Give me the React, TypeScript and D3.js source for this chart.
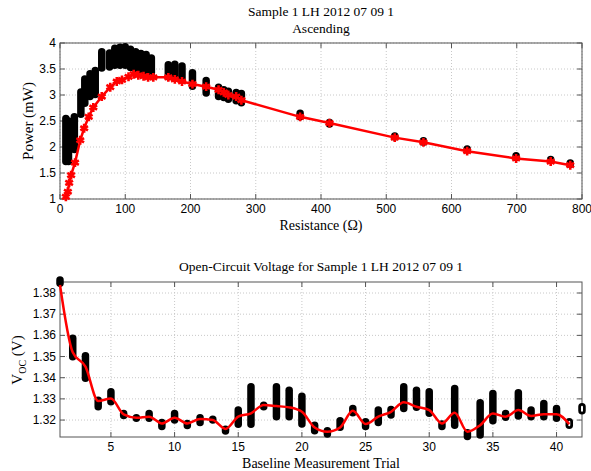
import React, { useEffect, useRef } from 'react';
import * as d3 from 'd3';

const W = 591;
const H = 471;

// --- top panel: power vs resistance ---
// red sweep (ascending)
const sweepR = [9, 12, 14, 17, 23, 31, 37, 44, 51, 64, 77, 87, 95, 105, 113, 120, 128, 135, 143, 166, 176, 187, 203, 224, 243, 251, 258, 270, 278, 368, 413, 513, 557, 624, 699, 752, 782];
const sweepP = [1.04, 1.14, 1.31, 1.46, 1.70, 2.13, 2.36, 2.58, 2.76, 2.97, 3.15, 3.26, 3.29, 3.35, 3.40, 3.38, 3.36, 3.34, 3.34, 3.34, 3.30, 3.26, 3.21, 3.16, 3.10, 3.05, 3.00, 2.97, 2.90, 2.58, 2.46, 2.18, 2.09, 1.92, 1.78, 1.72, 1.65];
// black measurement stacks
const stackR = [9, 13, 22, 32, 38, 46, 54, 64, 76, 84, 92, 100, 108, 116, 124, 132, 140, 166, 176, 187, 203, 224, 243, 251, 258, 270, 278, 368, 413, 513, 557, 624, 699, 752, 782];
const stackMinP = [1.72, 1.72, 1.95, 2.63, 2.84, 2.97, 3.01, 3.52, 3.54, 3.57, 3.57, 3.57, 3.53, 3.49, 3.47, 3.45, 3.43, 3.35, 3.32, 3.29, 3.17, 3.04, 2.97, 2.95, 2.92, 2.89, 2.85, 2.58, 2.44, 2.19, 2.09, 1.94, 1.80, 1.74, 1.67];
const stackMaxP = [2.55, 2.50, 2.58, 3.06, 3.31, 3.41, 3.47, 3.83, 3.81, 3.90, 3.92, 3.93, 3.88, 3.83, 3.80, 3.78, 3.71, 3.58, 3.59, 3.56, 3.43, 3.28, 3.15, 3.10, 3.07, 3.05, 3.03, 2.65, 2.47, 2.21, 2.12, 1.96, 1.83, 1.76, 1.69];
const powerTicksX = [0, 100, 200, 300, 400, 500, 600, 700, 800];
const powerTicksY = [1, 1.5, 2, 2.5, 3, 3.5, 4];

// --- bottom panel: open-circuit voltage per trial ---
const trials = [1, 2, 3, 4, 5, 6, 7, 8, 9, 10, 11, 12, 13, 14, 15, 16, 17, 18, 19, 20, 21, 22, 23, 24, 25, 26, 27, 28, 29, 30, 31, 32, 33, 34, 35, 36, 37, 38, 39, 40, 41, 42];
const vocMin = [1.3846, 1.3499, 1.3397, 1.3263, 1.3286, 1.3221, 1.3208, 1.3208, 1.3169, 1.3200, 1.3174, 1.3189, 1.3200, 1.3148, 1.3180, 1.3180, 1.3263, 1.3216, 1.3216, 1.3181, 1.3150, 1.3134, 1.3166, 1.3235, 1.3169, 1.3188, 1.3224, 1.3255, 1.3260, 1.3232, 1.3169, 1.3176, 1.3122, 1.3130, 1.3197, 1.3213, 1.3219, 1.3216, 1.3216, 1.3208, 1.3176, 1.3244];
const vocMax = [1.3861, 1.3586, 1.3504, 1.3294, 1.3334, 1.3231, 1.3211, 1.3231, 1.3189, 1.3231, 1.3184, 1.3211, 1.3204, 1.3157, 1.3247, 1.3357, 1.3270, 1.3357, 1.3341, 1.3313, 1.3176, 1.3149, 1.3197, 1.3255, 1.3192, 1.3247, 1.3250, 1.3357, 1.3341, 1.3334, 1.3181, 1.3349, 1.3140, 1.3282, 1.3326, 1.3231, 1.3329, 1.3247, 1.3278, 1.3255, 1.3192, 1.3263];
const vocMean = [1.3838, 1.3520, 1.3452, 1.3290, 1.3302, 1.3227, 1.3211, 1.3216, 1.3184, 1.3211, 1.3184, 1.3205, 1.3200, 1.3158, 1.3216, 1.3232, 1.3271, 1.3266, 1.3260, 1.3239, 1.3165, 1.3145, 1.3165, 1.3244, 1.3181, 1.3216, 1.3239, 1.3284, 1.3263, 1.3247, 1.3184, 1.3234, 1.3145, 1.3176, 1.3231, 1.3216, 1.3247, 1.3219, 1.3228, 1.3228, 1.3181];
const vocTicksX = [5, 10, 15, 20, 25, 30, 35, 40];
const vocTicksY = [1.32, 1.33, 1.34, 1.35, 1.36, 1.37, 1.38];

const SERIF = '"Liberation Serif", "Times New Roman", serif';
const SANS = '"Liberation Sans", Arial, sans-serif';
const BOX = '#555';

// axes box, grid, ticks and tick labels, MATLAB style
function drawFrame(g: any, x: any, y: any, xt: number[], yt: number[]) {
  const [x0, x1] = x.range();
  const [y0, y1] = y.range(); // y0 bottom, y1 top

  g.append('g').selectAll('line').data(xt).enter().append('line')
    .attr('x1', (d: number) => x(d)).attr('x2', (d: number) => x(d))
    .attr('y1', y0).attr('y2', y1)
    .attr('stroke', '#c8c8c8').attr('stroke-dasharray', '1,2');
  g.append('g').selectAll('line').data(yt).enter().append('line')
    .attr('y1', (d: number) => y(d)).attr('y2', (d: number) => y(d))
    .attr('x1', x0).attr('x2', x1)
    .attr('stroke', '#c8c8c8').attr('stroke-dasharray', '1,2');

  g.append('rect').attr('x', x0).attr('y', y1)
    .attr('width', x1 - x0).attr('height', y0 - y1)
    .attr('fill', 'none').attr('stroke', BOX);

  const tk = 5;
  xt.forEach((d) => {
    g.append('line').attr('x1', x(d)).attr('x2', x(d)).attr('y1', y0).attr('y2', y0 - tk).attr('stroke', BOX);
    g.append('line').attr('x1', x(d)).attr('x2', x(d)).attr('y1', y1).attr('y2', y1 + tk).attr('stroke', BOX);
    g.append('text').attr('x', x(d)).attr('y', y0 + 14)
      .attr('text-anchor', 'middle').attr('font-family', SANS).attr('font-size', 12)
      .text(String(d));
  });
  yt.forEach((d) => {
    g.append('line').attr('y1', y(d)).attr('y2', y(d)).attr('x1', x0).attr('x2', x0 + tk).attr('stroke', BOX);
    g.append('line').attr('y1', y(d)).attr('y2', y(d)).attr('x1', x1).attr('x2', x1 - tk).attr('stroke', BOX);
    g.append('text').attr('x', x0 - 4).attr('y', y(d) + 4)
      .attr('text-anchor', 'end').attr('font-family', SANS).attr('font-size', 12)
      .text(String(d));
  });
}

export default function App() {
  const ref = useRef<SVGSVGElement>(null);

  useEffect(() => {
    const svg = d3.select(ref.current);
    svg.selectAll('*').remove();

    // ---------- top ----------
    const top = svg.append('g');
    const xP = d3.scaleLinear().domain([0, 800]).range([60, 582]);
    const yP = d3.scaleLinear().domain([1, 4]).range([199, 43]);
    drawFrame(top, xP, yP, powerTicksX, powerTicksY);

    const clip = svg.append('defs').append('clipPath').attr('id', 'topclip');
    clip.append('rect').attr('x', 60).attr('y', 43).attr('width', 522).attr('height', 156);

    top.append('g').selectAll('line').data(stackR).enter().append('line')
      .attr('x1', (d: number) => xP(d)).attr('x2', (d: number) => xP(d))
      .attr('y1', (d: number, i: number) => yP(stackMinP[i]))
      .attr('y2', (d: number, i: number) => yP(stackMaxP[i]))
      .attr('stroke', '#000').attr('stroke-width', 7.5).attr('stroke-linecap', 'round');

    const sweepLine = d3.line<number>()
      .x((d) => xP(d))
      .y((d, i) => yP(sweepP[i]));
    top.append('path').datum(sweepR).attr('d', sweepLine)
      .attr('fill', 'none').attr('stroke', '#ff0000').attr('stroke-width', 2.5)
      .attr('clip-path', 'url(#topclip)');

    const star = d3.symbol().type(d3.symbolAsterisk).size(55);
    top.append('g').selectAll('path').data(sweepR).enter().append('path')
      .attr('d', star as any)
      .attr('transform', (d: number, i: number) => `translate(${xP(d)},${yP(sweepP[i])})`)
      .attr('fill', 'none').attr('stroke', '#ff0000').attr('stroke-width', 2.6);

    top.append('text').attr('x', 321).attr('y', 16).attr('text-anchor', 'middle')
      .attr('font-family', SERIF).attr('font-size', 13.5).text('Sample 1 LH 2012 07 09 1');
    top.append('text').attr('x', 321).attr('y', 33).attr('text-anchor', 'middle')
      .attr('font-family', SERIF).attr('font-size', 13.5).text('Ascending');
    top.append('text').attr('x', 321).attr('y', 230).attr('text-anchor', 'middle')
      .attr('font-family', SERIF).attr('font-size', 14).text('Resistance (Ω)');
    top.append('text').attr('transform', 'translate(33,121) rotate(-90)').attr('text-anchor', 'middle')
      .attr('font-family', SERIF).attr('font-size', 15).text('Power (mW)');

    // ---------- bottom ----------
    const bot = svg.append('g');
    const xT = d3.scaleLinear().domain([1, 42]).range([60, 582]);
    const yV = d3.scaleLinear().domain([1.312, 1.3852]).range([437, 282]);
    drawFrame(bot, xT, yV, vocTicksX, vocTicksY);

    bot.append('g').selectAll('line').data(trials).enter().append('line')
      .attr('x1', (d: number) => xT(d)).attr('x2', (d: number) => xT(d))
      .attr('y1', (d: number, i: number) => yV(vocMin[i]))
      .attr('y2', (d: number, i: number) => yV(vocMax[i]))
      .attr('stroke', '#000').attr('stroke-width', 7.5).attr('stroke-linecap', 'round');
    // the last two trials read as single open circles
    bot.append('g').selectAll('line').data(trials.slice(40)).enter().append('line')
      .attr('x1', (d: number) => xT(d)).attr('x2', (d: number) => xT(d))
      .attr('y1', (d: number, i: number) => yV(vocMin[i + 40]))
      .attr('y2', (d: number, i: number) => yV(vocMax[i + 40]))
      .attr('stroke', '#fff').attr('stroke-width', 2).attr('stroke-linecap', 'round');

    const vocLine = d3.line<number>()
      .x((d, i) => xT(trials[i]))
      .y((d) => yV(d))
      .curve(d3.curveMonotoneX);
    bot.append('path').datum(vocMean).attr('d', vocLine)
      .attr('fill', 'none').attr('stroke', '#ff0000').attr('stroke-width', 2.5);

    bot.append('text').attr('x', 321).attr('y', 271).attr('text-anchor', 'middle')
      .attr('font-family', SERIF).attr('font-size', 13.5)
      .text('Open-Circuit Voltage for Sample 1 LH 2012 07 09 1');
    bot.append('text').attr('x', 321).attr('y', 468).attr('text-anchor', 'middle')
      .attr('font-family', SERIF).attr('font-size', 14).text('Baseline Measurement Trial');
    const yl = bot.append('text').attr('transform', 'translate(22,360) rotate(-90)').attr('text-anchor', 'middle')
      .attr('font-family', SERIF).attr('font-size', 15);
    yl.append('tspan').text('V');
    yl.append('tspan').attr('font-size', 10).attr('dy', 4).text('OC');
    yl.append('tspan').attr('dy', -4).text(' (V)');
  }, []);

  return (
    <svg ref={ref} width={W} height={H}
      style={{ position: 'absolute', left: 0, top: 0, background: '#fff' }} />
  );
}
